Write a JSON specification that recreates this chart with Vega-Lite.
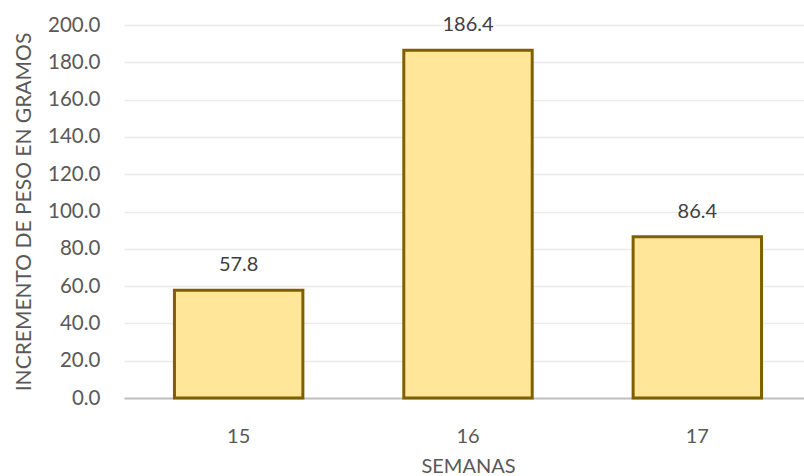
{
  "$schema": "https://vega.github.io/schema/vega-lite/v6.json",
  "width": 688,
  "height": 373,
  "autosize": {"type": "none"},
  "padding": {"left": 124, "top": 25, "right": 0, "bottom": 78},
  "background": "white",
  "config": {
    "view": {"stroke": null},
    "font": "Lato"
  },
  "data": {
    "values": [
      {"semana": "15", "incremento": 57.8},
      {"semana": "16", "incremento": 186.4},
      {"semana": "17", "incremento": 86.4}
    ]
  },
  "encoding": {
    "x": {
      "field": "semana",
      "type": "ordinal",
      "scale": {"paddingInner": 0.44, "paddingOuter": 0.22},
      "axis": {
        "title": "SEMANAS",
        "labelAngle": 0,
        "labelFontSize": 20,
        "labelColor": "#595959",
        "labelPadding": 28,
        "ticks": false,
        "domainColor": "#BFBFBF",
        "domainWidth": 2,
        "titleFontSize": 20,
        "titleFontWeight": "normal",
        "titleColor": "#595959",
        "titlePadding": 10,
        "titleX": 344,
        "grid": false
      }
    },
    "y": {
      "field": "incremento",
      "type": "quantitative",
      "scale": {"domain": [0, 200], "nice": false},
      "axis": {
        "title": "INCREMENTO DE PESO EN GRAMOS",
        "values": [0, 20, 40, 60, 80, 100, 120, 140, 160, 180, 200],
        "format": ".1f",
        "labelFontSize": 20.5,
        "labelColor": "#595959",
        "labelPadding": 24,
        "ticks": false,
        "domain": false,
        "gridColor": "#EBEBEB",
        "gridWidth": 1.5,
        "titleFontSize": 21,
        "titleFontWeight": "normal",
        "titleColor": "#595959",
        "titlePadding": 13
      }
    }
  },
  "layer": [
    {
      "mark": {"type": "bar", "fill": "#FFE699", "stroke": "#7F6000", "strokeWidth": 3}
    },
    {
      "mark": {"type": "text", "dy": -25, "fontSize": 20, "color": "#404040", "baseline": "middle"},
      "encoding": {
        "text": {"field": "incremento", "type": "quantitative", "format": ".1f"}
      }
    }
  ]
}
